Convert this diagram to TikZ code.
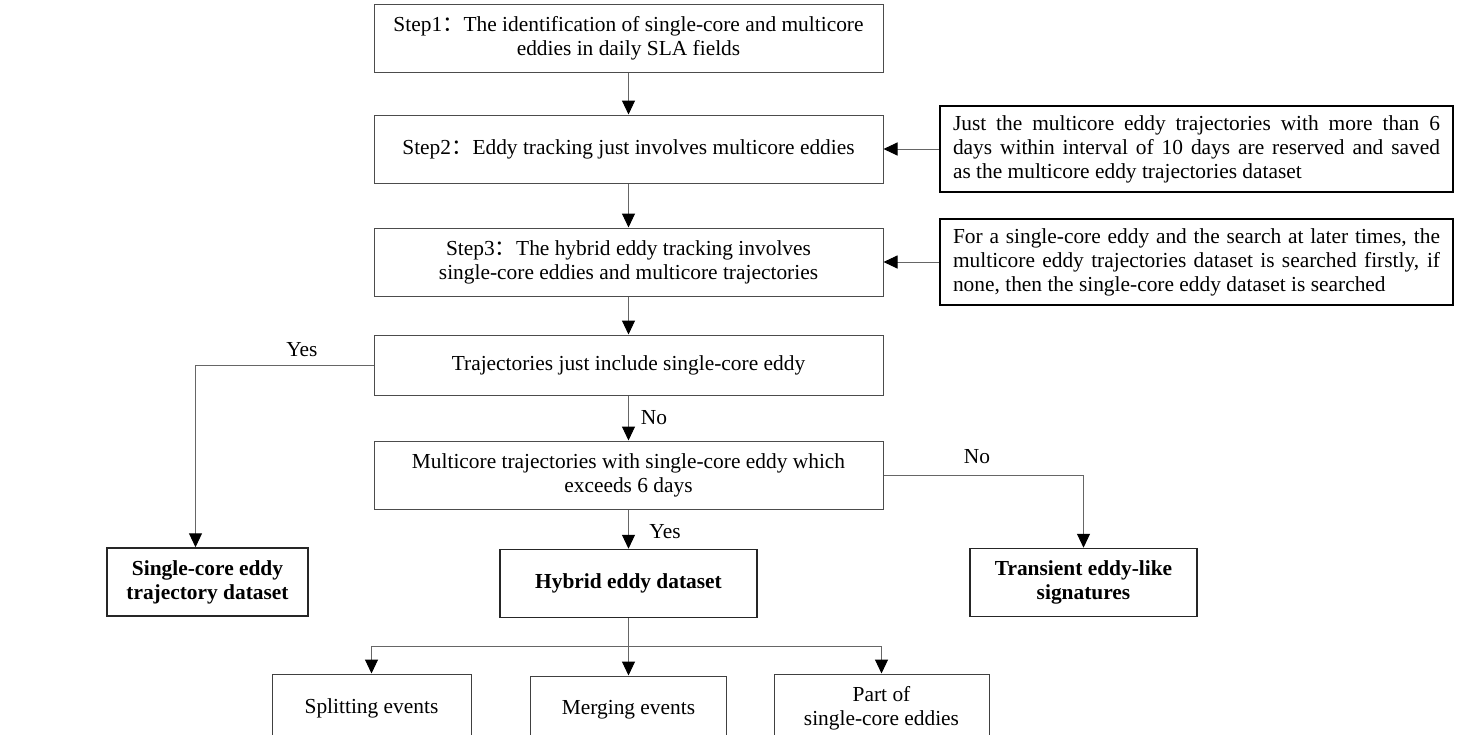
\documentclass[tikz,border=0pt]{standalone}
\usepackage{fontspec}
\setmainfont{Liberation Serif}
\newfontfamily\cjk{Noto Sans CJK SC}
\usetikzlibrary{arrows.meta,positioning}
\newcommand{\fwcolon}{{\cjk ：}}
\tikzset{
  every node/.style={font=\fontsize{21.4}{24}\selectfont},
  stepbox/.style={draw=black!70, line width=1pt, minimum width=509pt, minimum height=68pt, align=center, inner sep=0pt},
  notebox/.style={draw=black, line width=2pt, text width=487pt, minimum height=86pt, align=justify, inner xsep=13pt},
  databox/.style={draw=black!85, line width=1.5pt, minimum height=68pt, align=center, font=\fontsize{21.4}{24}\selectfont\bfseries},
  leafbox/.style={draw=black!75, line width=1pt, minimum height=68pt, align=center},
  link/.style={draw=black!60, line width=1pt},
  arr/.style={link, -{Triangle[length=14pt,width=13pt,color=black]}}
}
\begin{document}
\begin{tikzpicture}[x=1pt,y=-1pt]
\useasboundingbox (0,0) rectangle (1461,734);
% main column
\node[stepbox] (step1) at (628.5,38) {Step1\fwcolon The identification of single-core and multicore\\eddies in daily SLA fields};
\node[stepbox] (step2) at (628.5,149) {Step2\fwcolon Eddy tracking just involves multicore eddies};
\node[stepbox] (step3) at (628.5,262) {Step3\fwcolon The hybrid eddy tracking involves\\single-core eddies and multicore trajectories};
\node[stepbox, minimum height=60pt] (traj) at (628.5,365) {Trajectories just include single-core eddy};
\node[stepbox] (multi) at (628.5,475) {Multicore trajectories with single-core eddy which\\exceeds 6 days};
% notes on the right
\node[notebox] (note1) at (1196.5,149) {Just the multicore eddy trajectories with more than 6\linebreak days within interval of 10 days are reserved and saved\linebreak as the multicore eddy trajectories dataset};
\node[notebox] (note2) at (1196.5,262) {For a single-core eddy and the search at later times, the\linebreak multicore eddy trajectories dataset is searched firstly, if\linebreak none, then the single-core eddy dataset is searched};
% datasets
\node[databox, minimum width=201pt] (single) at (207.5,582) {Single-core eddy\\trajectory dataset};
\node[databox, minimum width=257pt] (hybrid) at (628.5,583.5) {Hybrid eddy dataset};
\node[databox, minimum width=227pt] (transient) at (1083.5,582.5) {Transient eddy-like\\signatures};
% events
\node[leafbox, minimum width=199pt] (split) at (371.5,708) {Splitting events};
\node[leafbox, minimum width=196pt] (merge) at (628.5,710) {Merging events};
\node[leafbox, minimum width=215pt] (part) at (881.5,708) {Part of\\single-core eddies};
% labels
\node (yes1) at (302,350) {Yes};
\node (no1) at (654,418) {No};
\node (no2) at (977,457) {No};
\node (yes2) at (665,532) {Yes};
% connectors
\draw[arr] (step1) -- (step2);
\draw[arr] (step2) -- (step3);
\draw[arr] (step3) -- (traj);
\draw[arr] (traj) -- (multi);
\draw[arr] (multi) -- (hybrid);
\draw[arr] (note1) -- (step2);
\draw[arr] (note2) -- (step3);
\draw[arr] (traj.west) -| ([xshift=-12pt]single.north);
\draw[arr] (multi.east) -| (transient.north);
\coordinate (fork) at (628.5,646);
\draw[link] (hybrid) -- (fork);
\draw[arr] (fork) -| (split.north);
\draw[arr] (fork) -| (part.north);
\draw[arr] (fork) -- (merge);
\end{tikzpicture}
\end{document}
